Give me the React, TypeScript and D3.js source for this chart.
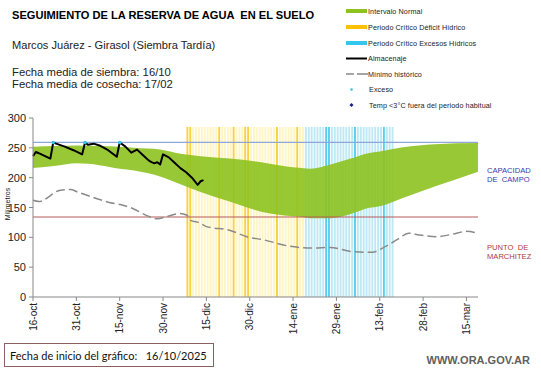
import React from 'react';
import * as d3 from 'd3';

// días contados desde el 16/10/2025
const bandaDias = [0, 8, 15, 23, 30, 35, 44, 51, 58, 68, 79, 85, 93, 96, 103, 110, 116, 120, 128, 139, 154];
const bandaMax = [252, 253, 254, 253, 252, 250, 247, 240, 236, 232, 226, 221, 216, 215, 222, 232, 241, 244, 251, 256, 258];
const bandaMin = [216, 220, 224, 221, 215, 212, 202, 189, 176, 160, 143, 138, 134, 132, 132, 139, 149, 152, 166, 185, 210];

const almDias = [0, 1, 2, 6, 7, 8, 11, 14, 17, 18, 19, 21, 23, 26, 29, 30, 32, 34, 36, 38, 40, 41, 42, 43, 44, 45, 47, 49, 51, 53, 55, 57, 58, 59];
const almValores = [236, 243, 241, 232, 259, 257, 252, 246, 239, 259, 255, 257, 254, 246, 235, 259, 252, 242, 247, 238, 229, 226, 224, 226, 222, 239, 234, 225, 216, 209, 200, 188, 194, 196];

const minDias = [0, 2, 9.5, 13, 15.4, 23.3, 26.8, 30.2, 34.7, 39.6, 43, 46.4, 50.9, 53.3, 54.4, 57.8, 60, 68, 74, 79.6, 88.9, 96.8, 102.7, 110.6, 117.5, 121, 126, 130, 133.7, 139.5, 145, 150, 154];
const minValores = [162, 160, 179, 180, 176, 163, 158, 155, 148, 136, 131, 135, 140, 137, 129, 124, 118, 112, 101, 96, 85, 82, 83, 76, 75, 82, 96, 107, 104, 101, 105, 110, 107];

const excesoDias = [7, 18, 30];
const excesoValores = [259, 259, 259];

const deficitPeriodo = [53, 93];
const excesoPeriodo = [94, 124];
const diasOscuros = [53, 54, 64, 69, 73, 74, 84, 91, 101, 102, 111, 121];

const capacidadCampo = 259;
const puntoMarchitez = 134;

const tickLabels = ['16-oct', '31-oct', '15-nov', '30-nov', '15-dic', '30-dic', '14-ene', '29-ene', '13-feb', '28-feb', '15-mar'];
const yTicks = [0, 50, 100, 150, 200, 250, 300];

const inicio = new Date(2025, 9, 16);
const dia = (n: number) => d3.timeDay.offset(inicio, Math.floor(n));

const W = 541, H = 368;
const x0 = 33, x1 = 478, yBottom = 297, yTop = 118;

export default function App() {
  const x = d3.scaleTime().domain([inicio, dia(154)]).range([x0, x1]);
  const xd = (n: number) => x(inicio) + (x(dia(1)) - x(inicio)) * n;
  const y = d3.scaleLinear().domain([0, 300]).range([yBottom, yTop]);
  const pxDia = xd(1) - xd(0);

  const banda = d3.area<number>()
    .x((_, i) => xd(bandaDias[i]))
    .y0((_, i) => y(bandaMin[i]))
    .y1(d => y(d))
    .curve(d3.curveMonotoneX)(bandaMax);

  const alm = d3.line<number>()
    .x((_, i) => xd(almDias[i]))
    .y(d => y(d))(almValores);

  const minimo = d3.line<number>()
    .x((_, i) => xd(minDias[i]))
    .y(d => y(d))
    .curve(d3.curveMonotoneX)(minValores);

  const franjas: { d: number; tipo: string }[] = [];
  d3.range(deficitPeriodo[0], deficitPeriodo[1] + 1).forEach(d => franjas.push({ d, tipo: 'def' }));
  d3.range(excesoPeriodo[0], excesoPeriodo[1] + 1).forEach(d => franjas.push({ d, tipo: 'exc' }));

  const color = (f: { d: number; tipo: string }) => {
    const osc = diasOscuros.includes(f.d);
    if (f.tipo === 'def') return osc ? '#f5c400' : '#fff0b0';
    return osc ? '#1fc0e6' : '#a6e2f0';
  };

  const font = '"Liberation Sans", Arial, sans-serif';
  const legend = [
    { t: 'Intervalo Normal', k: 'rect', c: '#8dc21f' },
    { t: 'Periodo Crítico Déficit Hídrico', k: 'rect', c: '#ffc000' },
    { t: 'Periodo Crítico Excesos Hídricos', k: 'rect', c: '#33c6ee' },
    { t: 'Almacenaje', k: 'line', c: '#000' },
    { t: 'Mínimo histórico', k: 'dash', c: '#888' },
    { t: 'Exceso', k: 'dot', c: '#33c6ee' },
    { t: 'Temp <3°C fuera del periodo habitual', k: 'diamond', c: '#1a1aa0' },
  ];
  const legY = [11, 27, 43, 58.5, 74, 89.5, 105];

  return (
    <svg width={W} height={H} style={{ position: 'absolute', left: 0, top: 0, background: '#fff' }} fontFamily={font}>
      <text x={12} y={19} fontSize={11.1} fontWeight="bold" style={{ whiteSpace: 'pre' }}>SEGUIMIENTO DE LA RESERVA DE AGUA  EN EL SUELO</text>
      <text x={12} y={48.5} fontSize={11.1} fill="#222">Marcos Juárez - Girasol (Siembra Tardía)</text>
      <text x={12} y={75.5} fontSize={11.3} fill="#222">Fecha media de siembra: 16/10</text>
      <text x={12} y={87.5} fontSize={11.3} fill="#222">Fecha media de cosecha: 17/02</text>

      {legend.map((l, i) => {
        const cy = legY[i];
        let mark;
        if (l.k === 'rect') mark = <rect x={346} y={cy - 2} width={21} height={4} fill={l.c} />;
        else if (l.k === 'line') mark = <line x1={346} x2={367} y1={cy} y2={cy} stroke={l.c} strokeWidth={2} />;
        else if (l.k === 'dash') mark = <line x1={346} x2={368} y1={cy} y2={cy} stroke={l.c} strokeWidth={1.5} strokeDasharray="8,3,4,0" />;
        else if (l.k === 'dot') mark = <circle cx={351.5} cy={cy} r={1.3} fill={l.c} />;
        else mark = <path d={`M351.5,${cy - 2}L353.5,${cy}L351.5,${cy + 2}L349.5,${cy}Z`} fill={l.c} />;
        return (
          <g key={i}>
            {mark}
            <text x={l.k === 'dot' || l.k === 'diamond' ? 369 : 368} y={cy + 2.8} fontSize={7.2} fill="#222" letterSpacing={0.1}>{l.t}</text>
          </g>
        );
      })}

      {/* periodos criticos */}
      {franjas.map(f => (
        <rect key={f.d} x={xd(f.d) + 0.3} y={y(285)} width={pxDia - 1} height={yBottom - y(285)}
          fill={color(f)} opacity={0.75} />
      ))}

      {/* banda normal */}
      <path d={banda || ''} fill="#8dc21f" opacity={0.9} />

      <line x1={x0} x2={x1} y1={y(capacidadCampo)} y2={y(capacidadCampo)} stroke="#8ea6d8" strokeWidth={1.2} />
      <line x1={x0} x2={x1} y1={y(puntoMarchitez)} y2={y(puntoMarchitez)} stroke="#b85a5a" strokeWidth={1.1} />

      <path d={minimo || ''} fill="none" stroke="#8a8a8a" strokeWidth={1.5} strokeDasharray="9,4" />
      <path d={alm || ''} fill="none" stroke="#000" strokeWidth={2} strokeLinejoin="round" />
      {excesoDias.map((d, i) => (
        <circle key={i} cx={xd(d)} cy={y(excesoValores[i])} r={1.8} fill="#33c6ee" />
      ))}

      {/* ejes */}
      <line x1={x0} x2={x0} y1={yTop} y2={yBottom} stroke="#888" />
      <line x1={x0} x2={x1} y1={yBottom} y2={yBottom} stroke="#888" />
      {yTicks.map(t => (
        <g key={t}>
          <line x1={x0 - 4} x2={x0} y1={y(t)} y2={y(t)} stroke="#888" />
          <text x={26} y={y(t) + 4} fontSize={11} textAnchor="end" fill="#222">{t}</text>
        </g>
      ))}
      <text transform={`translate(10,204) rotate(-90)`} fontSize={7} textAnchor="middle" fill="#222">Milímetros</text>
      {tickLabels.map((t, i) => {
        const px = xd(i * 15);
        return (
          <g key={t}>
            <line x1={px} x2={px} y1={yBottom} y2={yBottom + 4} stroke="#888" />
            <text transform={`translate(${px + 3.5},${yBottom + 6}) rotate(-90)`} fontSize={10} textAnchor="end" fill="#222">{t}</text>
          </g>
        );
      })}

      <text x={487} y={173} fontSize={7.6} fill="#3a3aa8">CAPACIDAD</text>
      <text x={487} y={182} fontSize={7.6} fill="#3a3aa8" style={{ whiteSpace: 'pre' }}>DE  CAMPO</text>
      <text x={487} y={249.5} fontSize={7.6} fill="#b03a3a" style={{ whiteSpace: 'pre' }}>PUNTO  DE</text>
      <text x={487} y={258.5} fontSize={7.6} fill="#b03a3a">MARCHITEZ</text>

      <rect x={4.5} y={343.5} width={209} height={23} fill="#fff" stroke="#8b6060" />
      <text x={10} y={359.5} fontSize={11} fill="#111" fontFamily='Lato, "Open Sans", sans-serif' style={{ whiteSpace: 'pre' }}>Fecha de inicio del gráfico:   16/10/2025</text>
      <text x={530} y={364} fontSize={11} fontWeight="bold" fill="#606060" textAnchor="end">WWW.ORA.GOV.AR</text>
    </svg>
  );
}
